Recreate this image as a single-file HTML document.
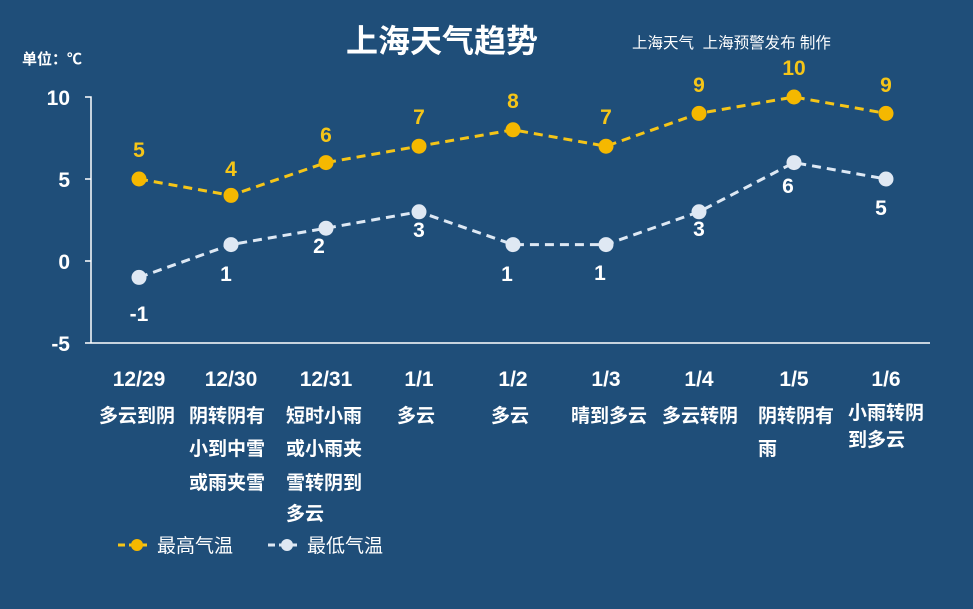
<!DOCTYPE html>
<html><head><meta charset="utf-8"><style>
body{margin:0;background:#1f4e79;}
svg{display:block}
text{font-family:"Liberation Sans","Noto Sans CJK SC",sans-serif;}
</style></head><body>
<svg width="973" height="609" xmlns="http://www.w3.org/2000/svg">
<rect width="973" height="609" fill="#1f4e79"/>
<text x="442" y="52" font-size="32" font-weight="bold" fill="#fff" text-anchor="middle">上海天气趋势</text>
<text x="632" y="48" font-size="15.5" fill="#fff">上海天气&#160;&#160;上海预警发布 制作</text>
<text x="22" y="64" font-size="15" font-weight="bold" fill="#fff">单位：℃</text>
<g font-size="21" font-weight="bold" fill="#fff" text-anchor="end">
<text x="70" y="105">10</text><text x="70" y="187">5</text><text x="70" y="269">0</text><text x="70" y="351">-5</text>
</g>
<g stroke="#fff" stroke-width="1.5" fill="none">
<path d="M85 97H91V343M85 179H91M85 261H91M85 343H930"/>
</g>
<polyline fill="none" stroke="#f5c518" stroke-width="3" stroke-dasharray="9,6" points="139,179 231,195.4 326,162.6 419,146.2 513,129.8 606,146.2 699,113.4 794,97 886,113.4"/>
<polyline fill="none" stroke="#dde8f4" stroke-width="3" stroke-dasharray="9,6" points="139,277.4 231,244.6 326,228.2 419,211.8 513,244.6 606,244.6 699,211.8 794,162.6 886,179"/>
<g fill="#f5b800">
<circle cx="139" cy="179" r="7.5"/><circle cx="231" cy="195.4" r="7.5"/><circle cx="326" cy="162.6" r="7.5"/><circle cx="419" cy="146.2" r="7.5"/><circle cx="513" cy="129.8" r="7.5"/><circle cx="606" cy="146.2" r="7.5"/><circle cx="699" cy="113.4" r="7.5"/><circle cx="794" cy="97" r="7.5"/><circle cx="886" cy="113.4" r="7.5"/>
</g>
<g fill="#dfe8f3">
<circle cx="139" cy="277.4" r="7.5"/><circle cx="231" cy="244.6" r="7.5"/><circle cx="326" cy="228.2" r="7.5"/><circle cx="419" cy="211.8" r="7.5"/><circle cx="513" cy="244.6" r="7.5"/><circle cx="606" cy="244.6" r="7.5"/><circle cx="699" cy="211.8" r="7.5"/><circle cx="794" cy="162.6" r="7.5"/><circle cx="886" cy="179" r="7.5"/>
</g>
<g font-size="21" font-weight="bold" fill="#f5c518" text-anchor="middle">
<text x="139" y="157">5</text><text x="231" y="176">4</text><text x="326" y="142">6</text><text x="419" y="124">7</text><text x="513" y="108">8</text><text x="606" y="124">7</text><text x="699" y="92">9</text><text x="794" y="75">10</text><text x="886" y="92">9</text>
</g>
<g font-size="21" font-weight="bold" fill="#fff" text-anchor="middle">
<text x="139" y="321">-1</text><text x="226" y="281">1</text><text x="319" y="253">2</text><text x="419" y="237">3</text><text x="507" y="281">1</text><text x="600" y="280">1</text><text x="699" y="236">3</text><text x="788" y="193">6</text><text x="881" y="215">5</text>
</g>
<g font-size="21" font-weight="bold" fill="#fff" text-anchor="middle">
<text x="139" y="386">12/29</text><text x="231" y="386">12/30</text><text x="326" y="386">12/31</text><text x="419" y="386">1/1</text><text x="513" y="386">1/2</text><text x="606" y="386">1/3</text><text x="699" y="386">1/4</text><text x="794" y="386">1/5</text><text x="886" y="386">1/6</text>
</g>
<g font-size="19" font-weight="bold" fill="#fff">
<text x="99" y="422">多云到阴</text>
<text x="189" y="422">阴转阴有</text><text x="189" y="455">小到中雪</text><text x="189" y="489">或雨夹雪</text>
<text x="286" y="422">短时小雨</text><text x="286" y="455">或小雨夹</text><text x="286" y="489">雪转阴到</text><text x="286" y="520">多云</text>
<text x="397" y="422">多云</text>
<text x="491" y="422">多云</text>
<text x="571" y="422">晴到多云</text>
<text x="662" y="422">多云转阴</text>
<text x="758" y="422">阴转阴有</text><text x="758" y="455">雨</text>
<text x="848" y="419">小雨转阴</text><text x="848" y="446">到多云</text>
</g>
<g>
<line x1="118" y1="545" x2="150" y2="545" stroke="#f5c518" stroke-width="3" stroke-dasharray="7,4"/>
<circle cx="137" cy="545" r="6" fill="#f5b800"/>
<text x="157" y="552" font-size="19" fill="#fff">最高气温</text>
<line x1="268" y1="545" x2="300" y2="545" stroke="#dde8f4" stroke-width="3" stroke-dasharray="7,4"/>
<circle cx="287" cy="545" r="6" fill="#dfe8f3"/>
<text x="307" y="552" font-size="19" fill="#fff">最低气温</text>
</g>
</svg>
</body></html>
